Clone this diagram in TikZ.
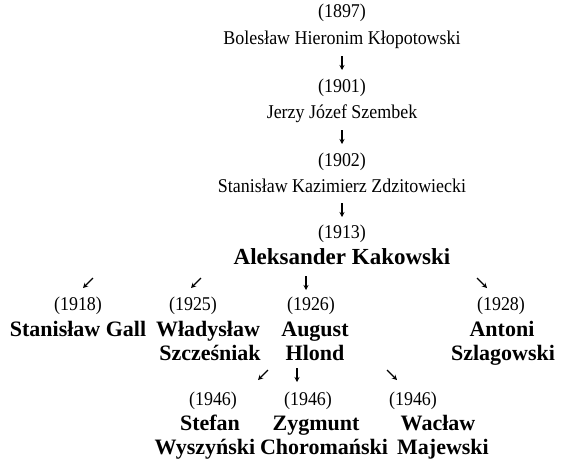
\documentclass[tikz,border=0pt]{standalone}
\usepackage{fontspec}
\setmainfont{Liberation Serif}
\newfontfamily\regfont[FakeStretch=0.92]{Liberation Serif}
\usetikzlibrary{arrows.meta}
\begin{document}
\begin{tikzpicture}[x=1pt,y=-1pt,
  txt/.style={font=\regfont\fontsize{19.5}{24.5}\selectfont, inner sep=0pt, anchor=base},
  bname/.style={font=\fontsize{22}{24.5}\selectfont\bfseries, inner sep=0pt, anchor=base},
  bbig/.style={font=\fontsize{23}{24.5}\selectfont\bfseries, inner sep=0pt, anchor=base},
  arr/.style={line width=1.1pt, -{Stealth[length=5pt,width=5pt]}}]
\useasboundingbox (0,0) rectangle (562,459);
% top chain
\node[txt] (y1) at (342,17.5) {(1897)};
\node[txt] (n1) at (342,44) {Bolesław Hieronim Kłopotowski};
\node[txt] (y2) at (342,92.5) {(1901)};
\node[txt] (n2) at (342,118) {Jerzy Józef Szembek};
\node[txt] (y3) at (342,166.5) {(1902)};
\node[txt] (n3) at (342,192) {Stanisław Kazimierz Zdzitowiecki};
\node[txt] (y4) at (342,238.5) {(1913)};
\node[bbig] (n4) at (342,264.5) {Aleksander Kakowski};
\coordinate (a1s) at (342,56); \coordinate (a1e) at (342,70);
\coordinate (a2s) at (342,130); \coordinate (a2e) at (342,144);
\coordinate (a3s) at (342,203); \coordinate (a3e) at (342,217);
\draw[arr] (a1s) -- (a1e);
\draw[arr] (a2s) -- (a2e);
\draw[arr] (a3s) -- (a3e);
% second row
\coordinate (b1s) at (93,278); \coordinate (b1e) at (83,288);
\coordinate (b2s) at (201,278); \coordinate (b2e) at (191,288);
\coordinate (b3s) at (306,276); \coordinate (b3e) at (306,290);
\coordinate (b4s) at (477,278); \coordinate (b4e) at (487,288);
\draw[arr] (b1s) -- (b1e);
\draw[arr] (b2s) -- (b2e);
\draw[arr] (b3s) -- (b3e);
\draw[arr] (b4s) -- (b4e);
\node[txt] (y5) at (78,310.5) {(1918)};
\node[bname] (n5) at (78,336) {Stanisław Gall};
\node[txt] (y6) at (193,310.5) {(1925)};
\node[bname] (n6a) at (208,336) {Władysław};
\node[bname] (n6b) at (210,360) {Szcześniak};
\node[txt] (y7) at (311,310.5) {(1926)};
\node[bname] (n7a) at (315,336) {August};
\node[bname] (n7b) at (315,360) {Hlond};
\node[txt] (y8) at (501,310.5) {(1928)};
\node[bname] (n8a) at (502,336) {Antoni};
\node[bname] (n8b) at (503,360) {Szlagowski};
% third row
\coordinate (c1s) at (268,370); \coordinate (c1e) at (258,380);
\coordinate (c2s) at (297,368); \coordinate (c2e) at (297,382);
\coordinate (c3s) at (387,370); \coordinate (c3e) at (397,380);
\draw[arr] (c1s) -- (c1e);
\draw[arr] (c2s) -- (c2e);
\draw[arr] (c3s) -- (c3e);
\node[txt] (y9) at (213,405.5) {(1946)};
\node[bname] (n9a) at (210,430.5) {Stefan};
\node[bname] (n9b) at (205,454) {Wyszyński};
\node[txt] (y10) at (308,405.5) {(1946)};
\node[bname] (n10a) at (316,430.5) {Zygmunt};
\node[bname] (n10b) at (324,454) {Choromański};
\node[txt] (y11) at (413,405.5) {(1946)};
\node[bname] (n11a) at (438,430.5) {Wacław};
\node[bname] (n11b) at (443,454) {Majewski};
\end{tikzpicture}
\end{document}
